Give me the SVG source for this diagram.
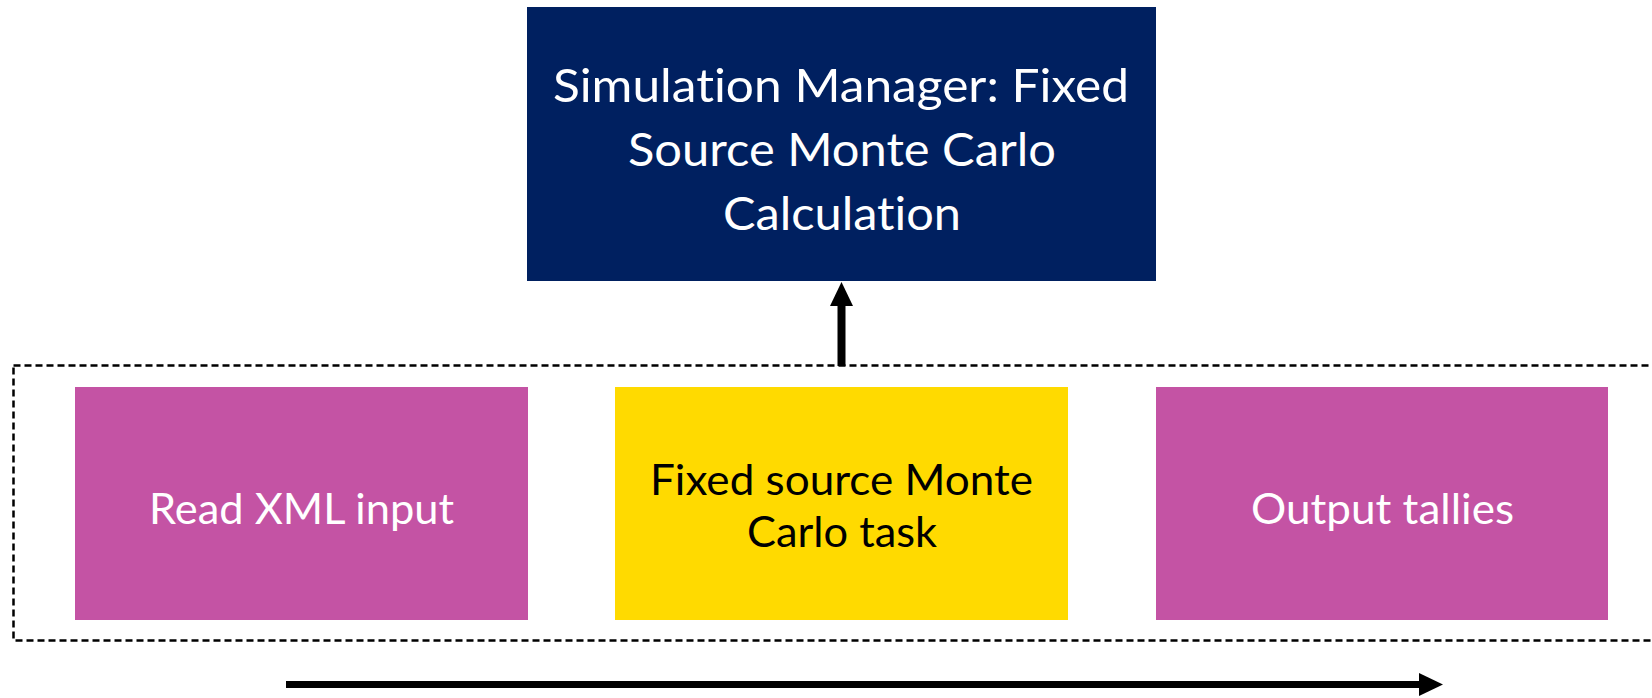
<svg xmlns="http://www.w3.org/2000/svg" width="1652" height="698" viewBox="0 0 1652 698">
<style>
.t{font-family:Lato,"Open Sans","Liberation Sans",sans-serif;text-anchor:middle;font-variant-ligatures:none;font-feature-settings:"liga" 0,"clig" 0}
.top{font-size:47px;fill:#ffffff}
.bx{font-size:42.5px}
.w{fill:#ffffff}
.k{fill:#000000}
.mag{fill:#C453A4}
.conn{stroke:#000000;fill:none}
</style>
<defs>
<marker id="ah" markerUnits="userSpaceOnUse" markerWidth="24" markerHeight="23" refX="0" refY="11.5" orient="auto">
<path d="M0,0 L24,11.5 L0,23 Z" fill="#000000"/>
</marker>
</defs>
<rect width="1652" height="698" fill="#ffffff"/>
<g id="container">
<rect x="13.5" y="365.5" width="1660" height="275" fill="none" stroke="#000000" stroke-width="2.5" stroke-dasharray="7 4"/>
</g>
<g id="manager">
<rect x="527" y="7" width="629" height="274" fill="#002060"/>
<text class="t top" x="841" y="102" textLength="576" lengthAdjust="spacingAndGlyphs">Simulation Manager: Fixed</text>
<text class="t top" x="842" y="166" textLength="428" lengthAdjust="spacingAndGlyphs">Source Monte Carlo</text>
<text class="t top" x="842" y="230" textLength="238" lengthAdjust="spacingAndGlyphs">Calculation</text>
</g>
<g id="read">
<rect class="mag" x="75" y="387" width="453" height="233"/>
<text class="t bx w" x="301.5" y="524" textLength="305" lengthAdjust="spacingAndGlyphs">Read XML input</text>
</g>
<g id="task">
<rect x="615" y="387" width="453" height="233" fill="#FFDA00"/>
<text class="t bx k" x="841.5" y="495" textLength="383" lengthAdjust="spacingAndGlyphs">Fixed source Monte</text>
<text class="t bx k" x="842" y="547" textLength="190" lengthAdjust="spacingAndGlyphs">Carlo task</text>
</g>
<g id="output">
<rect class="mag" x="1156" y="387" width="452" height="233"/>
<text class="t bx w" x="1382.5" y="524" textLength="263" lengthAdjust="spacingAndGlyphs">Output tallies</text>
</g>
<g id="connectors">
<line class="conn" x1="841.5" y1="366" x2="841.5" y2="306" stroke-width="8" marker-end="url(#ah)"/>
<line class="conn" x1="286" y1="684.5" x2="1419" y2="684.5" stroke-width="7" marker-end="url(#ah)"/>
</g>
</svg>
